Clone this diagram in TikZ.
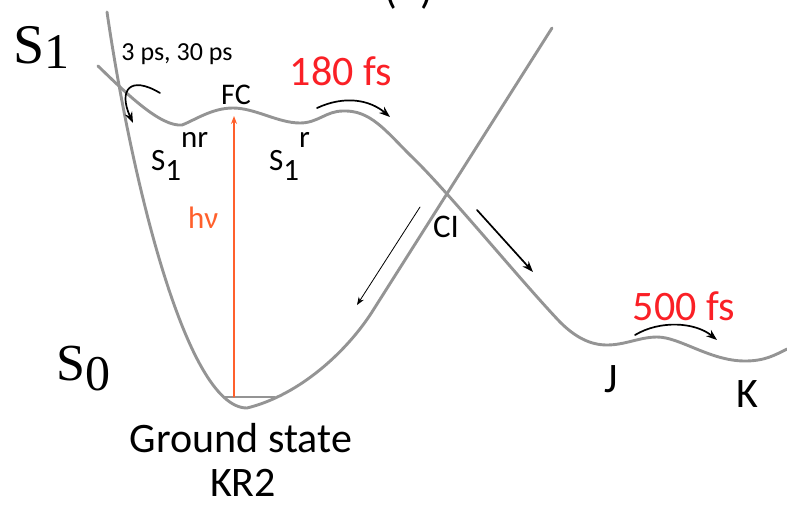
\documentclass[tikz,border=0pt]{standalone}
\usepackage{fontspec}
\usetikzlibrary{arrows.meta}
\setmainfont{Carlito}
\newfontfamily\statefont{Liberation Serif}
\definecolor{pesgray}{RGB}{148,148,148}
\definecolor{fsred}{RGB}{250,32,38}
\definecolor{pumporange}{RGB}{255,96,44}
\newcommand{\setfs}[1]{\fontsize{#1}{#1}\selectfont}
\begin{document}
\begin{tikzpicture}[x=1pt,y=-1pt,line join=round,line cap=round,>={Stealth[length=11pt,width=8pt]},
  pes/.style={pesgray,line width=2.9pt},
  hop/.style={->,line width=1.7pt},
  lbl/.style={anchor=base,inner sep=0pt}]
\useasboundingbox (0,0) rectangle (787,504);
\clip (0,0) rectangle (787,504);
% ground state surface and its crossing branch
\draw[pes] (107,12) .. controls (130,170) and (185,408) .. (247,408)
  .. controls (300,395) and (347,351) .. (372,312) -- (552,28);
% excited state surface
\draw[pes] (98,66) .. controls (125,92) and (160,127) .. (182,125)
  .. controls (195,120) and (212,108) .. (233,108)
  .. controls (255,108) and (278,123) .. (300,123)
  .. controls (318,123) and (326,111) .. (343,111)
  .. controls (370,110) and (385,130) .. (410,155)
  .. controls (445,188) and (520,280) .. (560,322)
  .. controls (575,337) and (590,345) .. (607,345)
  .. controls (625,345) and (640,337) .. (657,337)
  .. controls (680,337) and (710,361) .. (745,361)
  .. controls (765,361) and (775,355) .. (787,349);
% vertical excitation
\coordinate (G) at (234,397);
\coordinate (FC) at (234,116);
\draw[pesgray,line width=1.3pt] (225,397) -- (275,397);
\draw[-{Stealth[length=8pt,width=6pt]},pumporange,line width=1.3pt] (G) -- (FC);
% relaxation arrows
\coordinate (A1) at (160,93);
\coordinate (B1) at (133,123);
\coordinate (A2) at (317,108);
\coordinate (B2) at (390,117);
\coordinate (A3) at (477,210);
\coordinate (B3) at (533,272);
\coordinate (A4) at (420,207);
\coordinate (B4) at (357,305);
\coordinate (A5) at (635,335);
\coordinate (B5) at (717,340);
\draw[hop] (A1) .. controls (130,75) and (118,90) .. (B1);
\draw[hop] (A2) .. controls (345,95) and (370,100) .. (B2);
\draw[hop] (A3) -- (B3);
\draw[-{Stealth[length=8pt,width=6pt]},line width=0.8pt] (A4) -- (B4);
\draw[hop] (A5) .. controls (660,320) and (695,322) .. (B5);
% labels
\node[lbl,anchor=base west] (s1lab) at (13,63) {\statefont\setfs{56}S\raisebox{-5pt}{\setfs{50}1}};
\node[lbl,anchor=base west] (s0lab) at (56,380) {\statefont\setfs{52}S\raisebox{-10pt}{\setfs{50}0}};
\node[lbl] (tau1) at (177,60) {\setfs{26}3 ps, 30 ps};
\node[lbl] (fc) at (236,104) {\setfs{30}FC};
\node[lbl,text=fsred] (tau2) at (341,85) {\setfs{42}180 fs};
\node[lbl,anchor=base west] (snr) at (151,170) {\setfs{31}S\raisebox{-10pt}{1}\raisebox{23pt}{nr}};
\node[lbl,anchor=base west] (sr) at (269,170) {\setfs{31}S\raisebox{-10pt}{1}\raisebox{23pt}{r}};
\node[lbl,anchor=base west,text=pumporange] (hv) at (188,228) {\setfs{31}hν};
\node[lbl] (ci) at (446,237) {\setfs{33}CI};
\node[lbl,text=fsred] (tau3) at (684,320) {\setfs{42}500 fs};
\node[lbl] (j) at (611,392) {\setfs{42}J};
\node[lbl] (k) at (747,407) {\setfs{42}K};
\node[lbl] (gs) at (241,452) {\setfs{42}Ground state};
\node[lbl] (kr) at (243,496) {\setfs{42}KR2};
\node[lbl,anchor=base west] (panel) at (384,3) {\setfs{42}(\hspace{24pt})};
\end{tikzpicture}
\end{document}
